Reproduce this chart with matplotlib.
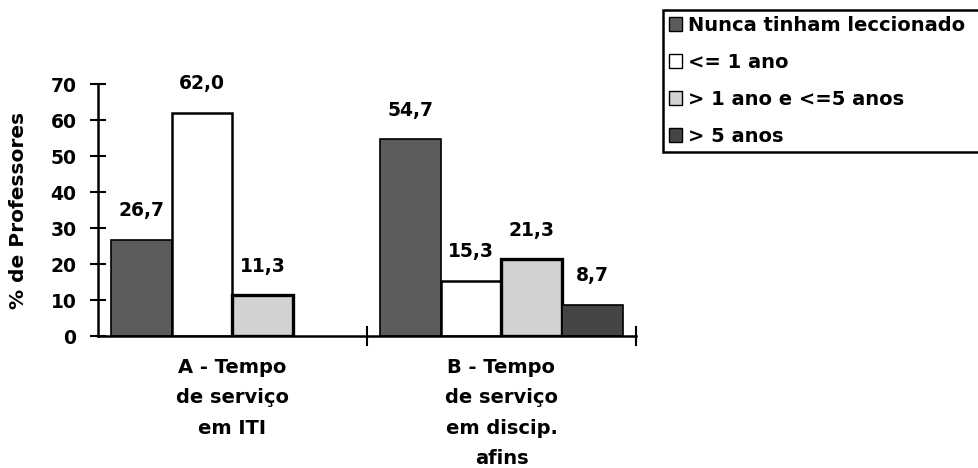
import numpy as np
import matplotlib.pyplot as plt
from matplotlib.patches import Patch

# bar chart: teaching experience of the teachers (two groups, four classes)

groups = ["A - Tempo\nde serviço\nem ITI", "B - Tempo\nde serviço\nem discip.\nafins"]
series = ["Nunca tinham leccionado", "<= 1 ano", "> 1 ano e <=5 anos", "> 5 anos"]
nunca = [26.7, 54.7]
ate1 = [62.0, 15.3]
de1a5 = [11.3, 21.3]
mais5 = [np.nan, 8.7]
values = [nunca, ate1, de1a5, mais5]
yticks = [0, 10, 20, 30, 40, 50, 60, 70]

colors = ['#5c5c5c', '#ffffff', '#d2d2d2', '#454545']
edges = [1.2, 1.8, 2.4, 1.2]

plt.rcParams['font.family'] = 'DejaVu Sans'
plt.rcParams['font.weight'] = 'bold'

fig = plt.figure(figsize=(9.79, 4.68), dpi=100)
ax = fig.add_axes([0.1001, 0.282, 0.5495, 0.5385])

x = np.arange(len(groups))
w = 0.225
for i, (vals, c, lw) in enumerate(zip(values, colors, edges)):
    pos = x - 1.5 * w + i * w
    bars = ax.bar(pos, vals, width=w, color=c, edgecolor='black', linewidth=lw)
    for p, v in zip(pos, vals):
        if np.isnan(v):
            continue
        ax.annotate(f"{v:.1f}".replace('.', ','), (p, v), xytext=(0, 14),
                    textcoords='offset points', ha='center', va='bottom',
                    fontsize=13.5, fontweight='bold')

ax.set_xlim(-0.5, 1.5)
ax.set_ylim(0, 70)
ax.set_yticks(yticks)
ax.tick_params(axis='y', direction='inout', length=11, width=1.5, pad=10,
               labelsize=13.5)
ax.set_xticks([0.5, 1.5])
ax.set_xticklabels([])
ax.tick_params(axis='x', which='major', direction='inout', length=14, width=1.5)
ax.set_xticks(x, groups, minor=True)
ax.tick_params(axis='x', which='minor', length=0, pad=16, labelsize=14)
for lab in ax.get_xticklabels(minor=True):
    lab.set_linespacing(1.75)
    lab.set_va('top')

for s in ['top', 'right']:
    ax.spines[s].set_visible(False)
for s in ['left', 'bottom']:
    ax.spines[s].set_linewidth(1.8)

ax.set_ylabel('% de Professores', fontsize=14.5, fontweight='bold', labelpad=16)

# legend box runs off the right edge, as in the scan
handles = [Patch(facecolor=c, edgecolor='black', linewidth=1) for c in colors]
leg = fig.legend(handles, series, loc='upper left', mode='expand',
                 bbox_to_anchor=(663 / 979, 0, 0.4, 1 - 10 / 468), fontsize=14,
                 handlelength=0.7, handleheight=0.7, handletextpad=0.3,
                 labelspacing=0.93, borderpad=0.3, borderaxespad=0,
                 fancybox=False, edgecolor='black', framealpha=1)
leg.get_frame().set_linewidth(1.8)

fig.savefig('out.png', dpi=100)
